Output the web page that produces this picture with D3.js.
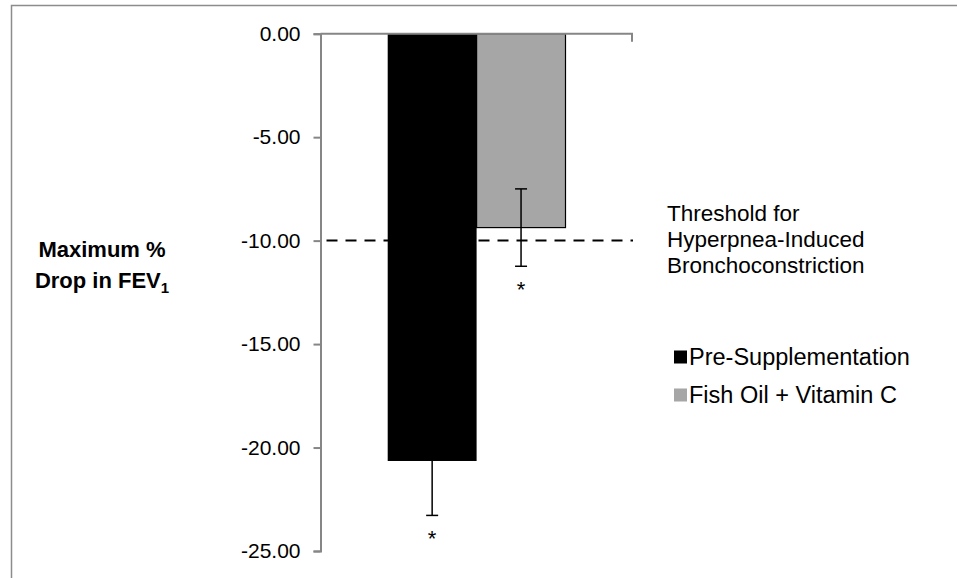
<!DOCTYPE html>
<html><head><meta charset="utf-8">
<script src="https://cdn.jsdelivr.net/npm/d3@7"></script>
<style>body{margin:0;background:#fff}svg{display:block}text{font-family:"Liberation Sans",Arial,sans-serif}</style>
</head><body>
<svg id="c" width="957" height="578"></svg>
<script>
const categories = ["Pre-Supplementation", "Fish Oil + Vitamin C"];
const values = [-20.65, -9.37];
const errors = [2.63, 1.87];
const colors = ["#000000", "#a6a6a6"];
const yTicks = [0, -5, -10, -15, -20, -25];
const threshold = -10;
const thresholdLabel = ["Threshold for", "Hyperpnea-Induced", "Bronchoconstriction"];

const svg = d3.select("#c");
svg.append("rect").attr("x", 11.5).attr("y", 5.5).attr("width", 1000).attr("height", 700)
  .attr("fill", "#fff").attr("stroke", "#8c8c8c").attr("stroke-width", 1.5);

const y = d3.scaleLinear().domain([0, -25]).range([33.7, 551]);
const x = d3.scaleBand().domain(categories).range([387.7, 565.5]).padding(0);
const x0 = 320.5, x1 = 632;
const fmt = d => d3.format(".2f")(d).replace("\u2212", "-");

// bars
svg.selectAll("rect.bar").data(categories).join("rect").attr("class", "bar")
  .attr("x", d => x(d)).attr("width", x.bandwidth())
  .attr("y", y(0)).attr("height", (d, i) => y(values[i]) - y(0))
  .attr("fill", (d, i) => colors[i])
  .attr("stroke", "#000").attr("stroke-width", (d, i) => i === 1 ? 1.2 : 0);

// y axis
const yAxis = d3.axisLeft(y).tickValues(yTicks).tickFormat(fmt).tickSize(7).tickPadding(13);
const gy = svg.append("g").attr("transform", `translate(${x0},0)`).call(yAxis);
gy.select(".domain").attr("stroke", "#868686").attr("stroke-width", 2);
gy.selectAll(".tick line").attr("stroke", "#868686").attr("stroke-width", 2);
gy.selectAll(".tick text").attr("font-size", 21).attr("fill", "#000")
  .attr("font-family", "Liberation Sans, Arial, sans-serif");

// top category axis at 0
svg.append("path").attr("d", `M${x0},${y(0)}H${x1}V${y(0) + 8}`)
  .attr("fill", "none").attr("stroke", "#868686").attr("stroke-width", 2);

// threshold dashed line
svg.append("line").attr("x1", x0 + 6).attr("x2", 633).attr("y1", y(threshold)).attr("y2", y(threshold))
  .attr("stroke", "#000").attr("stroke-width", 2).attr("stroke-dasharray", "11,8");

// error bars
categories.forEach((c, i) => {
  const cx = x(c) + x.bandwidth() / 2;
  const g = svg.append("g").attr("stroke", "#000").attr("stroke-width", 1.5);
  const top = i === 0 ? values[i] : values[i] + errors[i];
  const bot = values[i] - errors[i];
  g.append("line").attr("x1", cx).attr("x2", cx).attr("y1", y(top)).attr("y2", y(bot));
  g.append("line").attr("x1", cx - 6).attr("x2", cx + 6).attr("y1", y(bot)).attr("y2", y(bot));
  if (i === 1) g.append("line").attr("x1", cx - 6).attr("x2", cx + 6).attr("y1", y(top)).attr("y2", y(top));
  svg.append("text").attr("x", cx).attr("y", y(bot) + 31).attr("text-anchor", "middle")
    .attr("font-size", 22).text("*");
});

// threshold label
const tl = svg.append("text").attr("x", 667).attr("y", 221).attr("font-size", 22.5);
thresholdLabel.forEach((t, i) => tl.append("tspan").attr("x", 667).attr("dy", i === 0 ? 0 : 26).text(t));

// y title
const yt = svg.append("text").attr("font-size", 22).attr("font-weight", "bold").attr("text-anchor", "middle");
yt.append("tspan").attr("x", 102).attr("y", 257).text("Maximum %");
const l2 = yt.append("tspan").attr("x", 102).attr("y", 288);
l2.append("tspan").text("Drop in FEV");
l2.append("tspan").attr("font-size", 15).attr("dy", 5).text("1");

// legend
const lg = svg.append("g");
categories.forEach((c, i) => {
  const cy = 357 + i * 38;
  lg.append("rect").attr("x", 674).attr("y", cy - 6.5).attr("width", 13).attr("height", 13).attr("fill", colors[i]);
  lg.append("text").attr("x", 689).attr("y", cy + 8).attr("font-size", 23.5).text(c);
});
</script>
</body></html>
